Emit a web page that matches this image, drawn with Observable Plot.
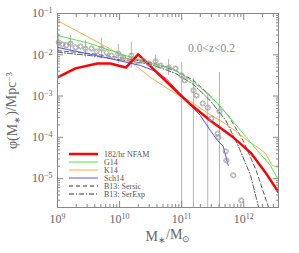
<!DOCTYPE html>
<html><head><meta charset="utf-8">
<script src="https://cdn.jsdelivr.net/npm/d3@7"></script>
<script src="https://cdn.jsdelivr.net/npm/@observablehq/plot@0.6"></script>
<style>
body{margin:0;background:#fff;}
#chart{width:299px;height:253px;}
</style></head><body><div id="chart"></div>
<script>
// ---- data (log10 values) ----
const redLogM   = [9.00, 9.29, 9.64, 9.85, 10.10, 10.30, 10.50, 10.90, 11.14, 11.46, 11.83, 12.11, 12.35, 12.56];
const redLogPhi = [-2.55,-2.33,-2.21,-2.21,-2.31,-1.99,-2.28,-2.86,-3.20,-3.59,-4.00,-4.37,-4.85,-5.33];
const greenLogM   = [9.00, 9.53, 10.10, 10.50, 10.82, 11.06, 11.30, 11.58, 11.95, 12.22, 12.43, 12.56];
const greenLogPhi = [-1.53,-1.73,-2.02,-2.21,-2.31,-2.53,-2.79,-3.18,-3.83,-4.32,-4.68,-5.04];
const orangeLogM   = [9.00, 9.69, 10.10, 10.50, 10.90, 11.14, 11.46, 11.67, 11.90, 12.06, 12.22, 12.35, 12.46, 12.56];
const orangeLogPhi = [-1.17,-1.73,-2.07,-2.55,-2.94,-3.13,-3.45,-3.64,-3.88,-4.08,-4.24,-4.39,-4.68,-4.73];
const blueLogM   = [9.00, 9.69, 10.34, 10.58, 10.77, 11.03, 11.30, 11.46, 11.58, 11.67, 11.75];
const blueLogPhi = [-1.82,-2.04,-2.26,-2.40,-2.60,-3.06,-3.47,-3.83,-4.08,-4.22,-4.68];
const sersicLogM   = [9.00, 9.53, 10.10, 10.50, 10.90, 11.19, 11.46, 11.75, 11.99, 12.20, 12.40];
const sersicLogPhi = [-1.90,-1.97,-2.09,-2.19,-2.38,-2.62,-2.99,-3.47,-4.08,-4.80,-5.70];
const serexpLogM   = [9.00, 9.53, 10.10, 10.50, 10.90, 11.19, 11.46, 11.71, 11.91, 12.11, 12.24];
const serexpLogPhi = [-1.94,-2.02,-2.14,-2.23,-2.45,-2.72,-3.11,-3.59,-4.20,-4.92,-5.70];

const obsLogM   = [9.02,9.08,9.14,9.21,9.29,9.37,9.45,9.55,9.63,9.71,9.79,9.87,9.98,10.06,10.19,10.29,10.38,10.47,10.58,10.66,10.79,10.90,11.00,11.05,11.19,11.24,11.34,11.42,11.48,11.61,11.58,11.59,11.71,11.72,11.83,11.96];
const obsLogPhi = [-1.70,-1.75,-1.77,-1.73,-1.82,-1.80,-1.85,-1.85,-1.92,-1.85,-1.94,-2.02,-1.97,-2.07,-2.02,-2.16,-2.14,-2.21,-2.16,-2.26,-2.31,-2.33,-2.50,-2.62,-2.86,-2.99,-3.18,-3.28,-3.54,-3.37,-3.91,-4.00,-4.34,-4.56,-4.92,-5.53];
const obsErrLo  = [-1.94,null,null,-1.94,null,null,-2.06,null,null,-2.09,null,null,-2.21,null,-2.33,null,null,null,-2.33,null,-2.50,null,-7,null,-7,null,null,-7,null,-7,null,null,null,null,null,null];
const obsErrHi  = [-1.48,null,null,-1.53,null,null,-1.65,null,null,-1.60,null,null,-1.75,null,-1.70,null,null,null,-2.02,null,-2.11,null,-2.18,null,-2.57,null,null,-2.91,null,-2.43,null,null,null,null,null,null];

const xTickExps = [9, 10, 11, 12];
const yTickExps = [-5, -4, -3, -2, -1];

const curves = [
  {name:"B13: Sersic", logM:sersicLogM, logPhi:sersicLogPhi, color:"#333", width:0.8, dash:"4,3"},
  {name:"B13: SerExp", logM:serexpLogM, logPhi:serexpLogPhi, color:"#333", width:0.8, dash:"5,2,1,2"},
  {name:"K14", logM:orangeLogM, logPhi:orangeLogPhi, color:"#ffaa44", width:1, dash:null},
  {name:"Sch14", logM:blueLogM, logPhi:blueLogPhi, color:"#5050ff", width:1, dash:null},
  {name:"G14", logM:greenLogM, logPhi:greenLogPhi, color:"#44ee44", width:1, dash:null},
  {name:"182/hr NFAM", logM:redLogM, logPhi:redLogPhi, color:"#ff0000", width:2.5, dash:null}
];
const legendOrder = ["182/hr NFAM","G14","K14","Sch14","B13: Sersic","B13: SerExp"];

const obs = obsLogM.map((m,i)=>({M:10**m, phi:10**obsLogPhi[i],
  lo: obsErrLo[i]==null?null:10**obsErrLo[i], hi: obsErrHi[i]==null?null:10**obsErrHi[i]}));
const errs = obs.filter(d=>d.lo!=null);

const xMax = 10**12.56, yMin = 10**-5.7, yMax = 1e-1;
const xMajor = xTickExps.map(e=>10**e);
const yMajor = yTickExps.map(e=>10**e);
const xMinor = d3.range(9,13).flatMap(k=>d3.range(2,10).map(j=>j*10**k)).filter(v=>v<=xMax);
const yMinor = d3.range(-6,-1).flatMap(k=>d3.range(2,10).map(j=>j*10**k)).filter(v=>v>=yMin && v<=yMax);
const fmt = v => "10^" + String(Math.round(Math.log10(v))).replace("-","−");
const blank = () => "";
const tk = "#888";

const lineMarks = curves.map(c => Plot.line(c.logM.map((m,i)=>({M:10**m, phi:10**c.logPhi[i]})),
  {x:"M", y:"phi", stroke:c.color, strokeWidth:c.width, strokeDasharray:c.dash, clip:true}));

const plot = Plot.plot({
  width:299, height:253, marginLeft:57, marginRight:21, marginTop:13, marginBottom:46,
  x:{type:"log", domain:[1e9, xMax]},
  y:{type:"log", domain:[yMin, yMax]},
  style:{fontFamily:"'Liberation Serif', serif", fontSize:"12px", color:"#666", background:"#fff"},
  marks:[
    Plot.ruleX(errs, {x:"M", y1:"lo", y2:"hi", stroke:"#aaa", strokeWidth:0.9, clip:true}),
    ...lineMarks,
    Plot.dot(obs, {x:"M", y:"phi", r:2.6, stroke:"#999", strokeWidth:0.8, fill:"none"}),
    Plot.dot(obs, {x:"M", y:"phi", r:1.8, symbol:"diamond2", stroke:"#999", strokeWidth:0.7}),
    Plot.frame({stroke:tk}),
    // tick marks (inward) on all sides
    Plot.axisX({anchor:"bottom", ticks:xMajor, tickSize:-6, tickFormat:blank, label:null, stroke:tk}),
    Plot.axisX({anchor:"bottom", ticks:xMinor, tickSize:-3, tickFormat:blank, label:null, stroke:tk}),
    Plot.axisX({anchor:"top", ticks:xMajor, tickSize:-6, tickFormat:blank, label:null, stroke:tk}),
    Plot.axisX({anchor:"top", ticks:xMinor, tickSize:-3, tickFormat:blank, label:null, stroke:tk}),
    Plot.axisY({anchor:"left", ticks:yMajor, tickSize:-6, tickFormat:blank, label:null, stroke:tk}),
    Plot.axisY({anchor:"left", ticks:yMinor, tickSize:-3, tickFormat:blank, label:null, stroke:tk}),
    Plot.axisY({anchor:"right", ticks:yMajor, tickSize:-6, tickFormat:blank, label:null, stroke:tk}),
    Plot.axisY({anchor:"right", ticks:yMinor, tickSize:-3, tickFormat:blank, label:null, stroke:tk}),
    // labels
    Plot.axisX({anchor:"bottom", ticks:xMajor, tickSize:0, tickPadding:7, tickFormat:fmt,
      label:"M*/M⊙", labelAnchor:"center", labelOffset:33, labelArrow:"none", fill:"#666"}),
    Plot.axisY({anchor:"left", ticks:yMajor, tickSize:0, tickPadding:5, tickFormat:fmt,
      label:"φ(M*)/Mpc-3", labelAnchor:"center", labelOffset:50, labelArrow:"none", fill:"#666"}),
    Plot.text(["0.0<z<0.2"], {frameAnchor:"top-right", text:d=>d, dx:-67, dy:30, textAnchor:"middle",
      fontSize:11.5, fill:"#888"})
  ]
});
document.getElementById("chart").appendChild(plot);

const svg = d3.select(plot);
// superscripts on tick labels
svg.selectAll('g[aria-label="x-axis tick label"] text, g[aria-label="y-axis tick label"] text').each(function(){
  const t = d3.select(this); const s = t.text(); const parts = s.split("^");
  if (parts.length < 2) return;
  t.text(null);
  t.append("tspan").text(parts[0]);
  t.append("tspan").attr("dy","-0.5em").attr("font-size","8px").text(parts[1]);
});
// axis labels with sub/superscripts
const xl = svg.select('g[aria-label="x-axis label"] text');
if (!xl.empty()) {
  xl.text(null).attr("font-size","14px").attr("fill","#666");
  xl.append("tspan").text("M");
  xl.append("tspan").attr("dy","0.3em").attr("font-size","9px").text("∗");
  xl.append("tspan").attr("dy","-0.3em").text("/M");
  xl.append("tspan").attr("dy","0.3em").attr("font-size","9px").text("⊙");
}
const yl = svg.select('g[aria-label="y-axis label"] text');
if (!yl.empty()) {
  yl.text(null).attr("font-size","14px").attr("fill","#666");
  yl.append("tspan").text("φ(M");
  yl.append("tspan").attr("dy","0.3em").attr("font-size","9px").text("∗");
  yl.append("tspan").attr("dy","-0.3em").text(")/Mpc");
  yl.append("tspan").attr("dy","-0.45em").attr("font-size","9px").text("−3");
}
// legend
const lg = svg.append("g").attr("font-family","'Liberation Serif', serif").attr("font-size","8px")
  .attr("fill","#555").attr("text-anchor","start");
legendOrder.forEach((name,i)=>{
  const c = curves.find(d=>d.name===name);
  const y = 154 + i*8;
  lg.append("line").attr("x1",69).attr("x2",98).attr("y1",y).attr("y2",y)
    .attr("stroke",c.color).attr("stroke-width",Math.max(c.width,1)).attr("stroke-dasharray",c.dash);
  lg.append("text").attr("x",104).attr("y",y+3).attr("text-anchor","start").text(name);
});
</script></body></html>
